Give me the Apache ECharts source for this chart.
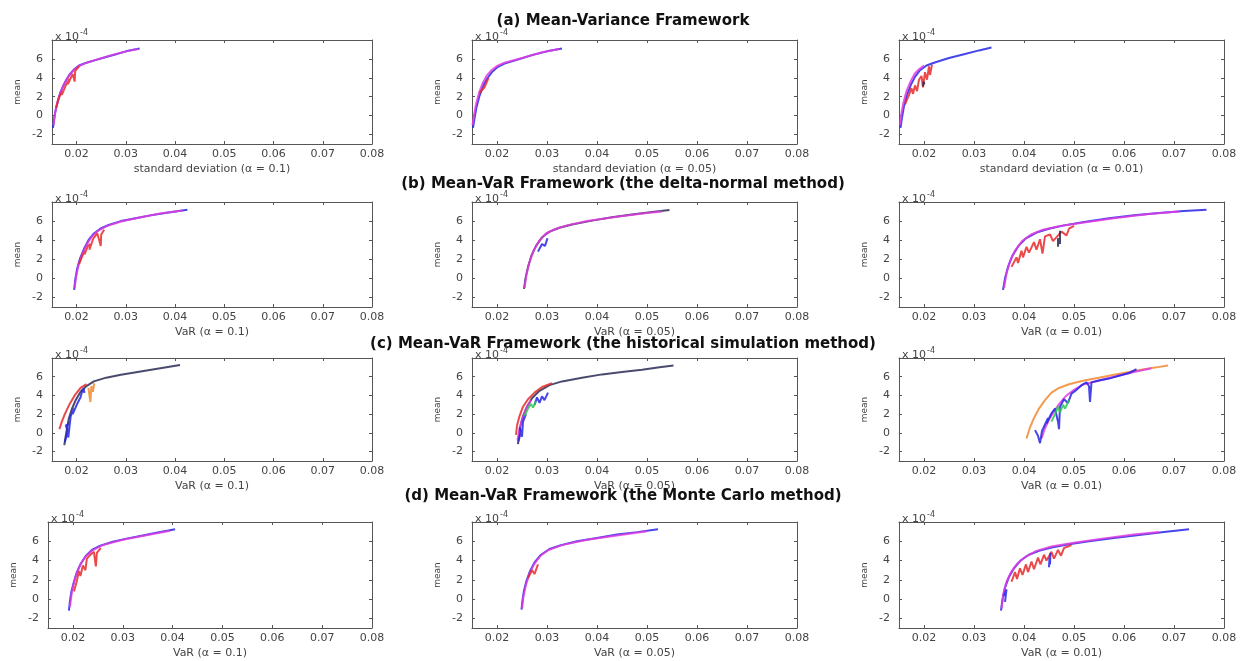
<!DOCTYPE html>
<html>
<head>
<meta charset="utf-8">
<script src="https://cdn.jsdelivr.net/npm/echarts@6/dist/echarts.min.js"></script>
<style>
html,body{margin:0;padding:0;background:#fff;}
#main{width:1246px;height:661px;}
</style>
</head>
<body>
<div id="main"></div>
<script>
// mean values are in units of 1e-4
var xTicks = [0.02, 0.03, 0.04, 0.05, 0.06, 0.07, 0.08];
var yTicks = [-2, 0, 2, 4, 6];
var sectionTitles = [
    '(a) Mean-Variance Framework',
    '(b) Mean-VaR Framework (the delta-normal method)',
    '(c) Mean-VaR Framework (the historical simulation method)',
    '(d) Mean-VaR Framework (the Monte Carlo method)'
];
var xNames = [
    ['standard deviation (\u03b1 = 0.1)', 'standard deviation (\u03b1 = 0.05)', 'standard deviation (\u03b1 = 0.01)'],
    ['VaR (\u03b1 = 0.1)', 'VaR (\u03b1 = 0.05)', 'VaR (\u03b1 = 0.01)'],
    ['VaR (\u03b1 = 0.1)', 'VaR (\u03b1 = 0.05)', 'VaR (\u03b1 = 0.01)'],
    ['VaR (\u03b1 = 0.1)', 'VaR (\u03b1 = 0.05)', 'VaR (\u03b1 = 0.01)']
];

// (a) mean-variance
var a1Blue = [[0.0152,-1.3],[0.0154,-0.5],[0.0157,0.5],[0.0162,1.6],[0.0168,2.6],[0.0176,3.5],[0.0185,4.3],[0.0195,4.9],[0.0205,5.3],[0.022,5.6],[0.024,5.9],[0.026,6.2],[0.028,6.5],[0.030,6.8],[0.0328,7.1]];
var a1Mag = [[0.0153,-1.0],[0.0156,0.2],[0.016,1.2],[0.0166,2.3],[0.0174,3.3],[0.0183,4.1],[0.0193,4.8],[0.0203,5.2],[0.0218,5.55],[0.0245,6.0],[0.0275,6.45],[0.0305,6.85],[0.0325,7.05]];
var a1Red = [[0.0158,0.8],[0.0165,2.0],[0.0172,2.6],[0.017,2.2],[0.0178,3.2],[0.0186,3.9],[0.0182,3.3],[0.0192,4.4],[0.0196,3.6],[0.0197,4.7],[0.0205,5.2]];

var a2Blue = [[0.0152,-1.3],[0.0155,-0.3],[0.0159,0.9],[0.0165,2.1],[0.0172,3.1],[0.018,3.9],[0.019,4.6],[0.020,5.1],[0.0215,5.5],[0.024,5.9],[0.027,6.4],[0.030,6.8],[0.033,7.1]];
var a2Mag = [[0.0151,-1.0],[0.0154,0.0],[0.0158,1.2],[0.0164,2.4],[0.0171,3.4],[0.0179,4.2],[0.0189,4.8],[0.020,5.25],[0.0215,5.6],[0.025,6.1],[0.029,6.7],[0.0325,7.05]];
var a2Red = [[0.0165,2.4],[0.0175,3.0],[0.0178,2.8],[0.0183,4.0]];

var a3Blue = [[0.0153,-1.3],[0.0156,-0.2],[0.016,1.0],[0.0166,2.2],[0.0174,3.3],[0.0182,4.1],[0.0192,4.8],[0.0205,5.3],[0.022,5.6],[0.025,6.1],[0.028,6.5],[0.031,6.9],[0.0335,7.2]];
var a3Mag = [[0.0152,-1.0],[0.0155,0.3],[0.0159,1.4],[0.0165,2.6],[0.0173,3.6],[0.0181,4.4],[0.019,4.9],[0.020,5.3]];
var a3Red = [[0.0162,1.2],[0.017,2.2],[0.0175,2.9],[0.0178,2.3],[0.0182,3.2],[0.0186,2.6],[0.019,3.8],[0.0195,4.2],[0.0198,3.0],[0.0202,4.6],[0.0206,3.8],[0.021,5.2],[0.0212,4.3],[0.0216,5.4]];
var a3Black = [[0.0198,3.1],[0.0199,3.6],[0.0201,3.3]];

// (b) delta-normal
var b1Blue = [[0.0195,-1.2],[0.0197,-0.2],[0.0201,1.0],[0.0207,2.1],[0.0215,3.1],[0.0224,4.0],[0.0235,4.7],[0.0248,5.2],[0.0265,5.6],[0.029,6.0],[0.032,6.3],[0.035,6.6],[0.038,6.85],[0.0425,7.2]];
var b1Mag = [[0.0196,-1.0],[0.0199,0.2],[0.0204,1.4],[0.0211,2.5],[0.022,3.5],[0.0231,4.4],[0.0244,5.0],[0.026,5.45],[0.029,5.95],[0.033,6.4],[0.037,6.8],[0.0415,7.1]];
var b1Red = [[0.0205,1.5],[0.0212,2.4],[0.0218,2.9],[0.0216,2.5],[0.0223,3.4],[0.0228,3.6],[0.0226,3.0],[0.0234,4.2],[0.0242,4.7],[0.0246,4.0],[0.0249,3.4],[0.025,4.6],[0.0256,5.1]];

var b2Blue = [[0.0254,-1.1],[0.0257,0.0],[0.0262,1.2],[0.0269,2.4],[0.0278,3.4],[0.029,4.3],[0.0305,4.9],[0.0325,5.3],[0.035,5.65],[0.039,6.05],[0.043,6.4],[0.047,6.7],[0.051,6.95],[0.0545,7.15]];
var b2Mag = [[0.0255,-1.0],[0.0259,0.4],[0.0265,1.7],[0.0273,2.9],[0.0284,3.9],[0.0298,4.7],[0.0318,5.2],[0.034,5.55],[0.038,6.0],[0.044,6.45],[0.05,6.85],[0.053,7.0]];
var b2Black = [[0.0282,2.8],[0.029,3.6],[0.0296,3.4],[0.0301,4.2]];

var b3Blue = [[0.0358,-1.2],[0.0362,0.0],[0.0368,1.2],[0.0377,2.4],[0.0389,3.4],[0.0404,4.2],[0.0425,4.8],[0.045,5.2],[0.048,5.55],[0.052,5.9],[0.057,6.3],[0.062,6.6],[0.067,6.85],[0.072,7.05],[0.0765,7.2]];
var b3Mag = [[0.036,-1.0],[0.0365,0.5],[0.0372,1.8],[0.0382,2.9],[0.0396,3.9],[0.0414,4.6],[0.0438,5.1],[0.047,5.45],[0.052,5.85],[0.058,6.3],[0.065,6.75],[0.071,7.0]];
var b3Red = [[0.0375,1.2],[0.0385,2.2],[0.0388,1.6],[0.0395,2.9],[0.0398,2.2],[0.0405,3.3],[0.041,2.7],[0.042,3.8],[0.0425,3.0],[0.0432,4.1],[0.0437,2.6],[0.0442,4.4],[0.0452,4.6],[0.0458,3.9],[0.0475,4.9],[0.0485,4.5],[0.049,5.2],[0.05,5.5]];
var b3Black = [[0.0468,3.3],[0.0468,4.2],[0.0472,3.6],[0.0472,5.0]];

// (c) historical simulation
var c1Blue = [[0.0175,-1.3],[0.0178,-0.3],[0.0181,0.6],[0.0184,1.5],[0.019,2.5],[0.0198,3.5],[0.0208,4.4],[0.022,5.0],[0.0235,5.5],[0.026,5.9],[0.029,6.2],[0.033,6.55],[0.037,6.9],[0.041,7.25]];
var c1Clust = [[0.0176,-1.0],[0.0182,0.2],[0.0178,0.8],[0.0186,1.0],[0.0183,-0.5],[0.0188,1.8],[0.0195,2.6],[0.0192,2.0],[0.0202,3.2],[0.0208,3.8],[0.0212,4.6],[0.0216,4.3],[0.0214,4.8]];
var c1Red = [[0.0165,0.4],[0.017,1.2],[0.0176,2.0],[0.0185,3.0],[0.0196,4.0],[0.0208,4.8],[0.022,5.2]];
var c1Orange = [[0.0224,4.8],[0.0228,3.3],[0.023,5.0],[0.0233,4.4],[0.0236,5.3]];

var c2Blue = [[0.0242,-1.2],[0.0244,-0.2],[0.0247,0.8],[0.0252,1.8],[0.026,2.8],[0.027,3.7],[0.0285,4.5],[0.0305,5.1],[0.033,5.5],[0.037,5.9],[0.041,6.25],[0.045,6.5],[0.049,6.75],[0.0525,7.0],[0.0553,7.2]];
var c2Red = [[0.0238,-0.2],[0.024,0.8],[0.0245,1.8],[0.0252,2.8],[0.0262,3.6],[0.0275,4.3],[0.029,4.9],[0.031,5.3]];
var c2Mag = [[0.0241,-0.8],[0.0244,0.2],[0.025,1.4],[0.0258,2.6],[0.0268,3.5]];
var c2ClustLow = [[0.0243,-0.9],[0.0248,0.2],[0.0245,0.6],[0.025,-0.4],[0.0252,1.2],[0.0258,2.0]];
var c2ClustMid = [[0.0275,3.0],[0.028,3.8],[0.0285,3.2],[0.029,3.9],[0.0295,3.5],[0.0302,4.3]];
var c2Green = [[0.0255,1.8],[0.0262,2.6],[0.0268,3.1],[0.0272,2.7],[0.0278,3.4]];

var c3Orange = [[0.0405,-0.6],[0.0412,0.6],[0.042,1.6],[0.043,2.6],[0.0442,3.5],[0.0455,4.3],[0.047,4.8],[0.049,5.2],[0.052,5.6],[0.055,5.9],[0.058,6.2],[0.061,6.5],[0.064,6.8],[0.0665,7.0],[0.0688,7.2]];
var c3Blue = [[0.0422,0.3],[0.0428,-0.3],[0.0432,-1.1],[0.0436,0.2],[0.0442,0.9],[0.0448,1.6],[0.0445,1.0],[0.0455,2.1],[0.0462,2.6],[0.0468,1.2],[0.047,0.4],[0.0472,2.8],[0.048,3.6],[0.0488,3.2],[0.0495,4.2],[0.0505,4.6],[0.0515,5.1],[0.0525,5.4],[0.053,5.0],[0.0532,3.3],[0.0535,5.4],[0.055,5.6],[0.057,5.8],[0.059,6.1],[0.061,6.4],[0.0625,6.8]];
var c3Mag = [[0.0435,-0.6],[0.0442,0.5],[0.045,1.4],[0.046,2.3],[0.0472,3.2],[0.0485,4.0],[0.05,4.6],[0.052,5.2],[0.055,5.6],[0.058,6.0],[0.062,6.5],[0.0655,6.9]];
var c3Green = [[0.0455,1.2],[0.0462,2.0],[0.0468,2.8],[0.0472,2.2],[0.0478,3.0],[0.0482,2.6],[0.049,3.5]];

// (d) monte carlo
var d1Blue = [[0.0192,-1.2],[0.0194,-0.2],[0.0197,0.8],[0.0202,1.8],[0.0208,2.8],[0.0216,3.7],[0.0226,4.5],[0.0238,5.1],[0.0255,5.55],[0.028,5.95],[0.031,6.3],[0.034,6.6],[0.037,6.9],[0.0405,7.25]];
var d1Mag = [[0.0194,-0.8],[0.0197,0.4],[0.0201,1.5],[0.0207,2.6],[0.0215,3.6],[0.0225,4.4],[0.0237,5.0],[0.026,5.6],[0.030,6.15],[0.035,6.65],[0.0395,7.1]];
var d1Red = [[0.0202,0.8],[0.0208,1.9],[0.0212,2.9],[0.0215,2.4],[0.022,3.5],[0.0225,3.0],[0.0228,4.2],[0.0235,4.6],[0.0242,4.9],[0.0246,3.4],[0.0248,4.8],[0.0256,5.3]];

var d2Blue = [[0.0249,-1.1],[0.0251,-0.1],[0.0254,0.9],[0.0259,1.9],[0.0266,2.9],[0.0275,3.8],[0.0288,4.6],[0.0305,5.2],[0.0328,5.6],[0.036,6.0],[0.040,6.35],[0.044,6.7],[0.048,6.95],[0.0522,7.25]];
var d2Mag = [[0.025,-1.0],[0.0253,0.3],[0.0258,1.5],[0.0265,2.6],[0.0274,3.6],[0.0287,4.5],[0.0303,5.1],[0.033,5.6],[0.038,6.15],[0.044,6.6],[0.050,7.05]];
var d2Red = [[0.0262,2.2],[0.027,3.0],[0.0275,2.6],[0.0282,3.6]];

var d3Blue = [[0.0354,-1.2],[0.0357,0.0],[0.0362,1.2],[0.037,2.3],[0.038,3.2],[0.0393,4.0],[0.041,4.6],[0.043,5.0],[0.0455,5.35],[0.049,5.7],[0.053,6.0],[0.058,6.35],[0.063,6.65],[0.068,6.95],[0.073,7.25]];
var d3Mag = [[0.0355,-1.0],[0.0359,0.6],[0.0365,1.8],[0.0374,2.8],[0.0387,3.7],[0.0403,4.4],[0.0425,5.0],[0.0455,5.45],[0.050,5.85],[0.056,6.3],[0.062,6.7],[0.067,6.95]];
var d3Red = [[0.0375,1.8],[0.0382,2.8],[0.0386,2.1],[0.0392,3.2],[0.0397,2.5],[0.0404,3.6],[0.0408,2.8],[0.0415,3.9],[0.042,3.1],[0.0428,4.3],[0.0433,3.6],[0.044,4.6],[0.0445,4.0],[0.0455,4.9],[0.046,4.2],[0.0468,5.1],[0.0474,4.5],[0.048,5.3],[0.0495,5.6]];
var d3Spike = [[0.045,3.3],[0.0451,4.3],[0.0452,3.6],[0.0453,4.8]];
var d3Clust = [[0.036,0.3],[0.0365,1.0],[0.0362,-0.3]];

var BLUE = '#2424e6', MAG = '#e23ce2', RED = '#e82a2a', ORANGE = '#f08a30', GREEN = '#28c850', BLACK = '#2a2a55';

// panel order: row by row, left to right
var panels = [
    [[a1Blue, BLUE], [a1Mag, MAG], [a1Red, RED]],
    [[a2Blue, BLUE], [a2Mag, MAG], [a2Red, RED]],
    [[a3Blue, BLUE], [a3Mag, MAG], [a3Red, RED], [a3Black, BLACK]],
    [[b1Blue, BLUE], [b1Mag, MAG], [b1Red, RED]],
    [[b2Blue, BLACK], [b2Mag, MAG], [b2Black, BLUE]],
    [[b3Blue, BLUE], [b3Mag, MAG], [b3Red, RED], [b3Black, BLACK]],
    [[c1Blue, BLACK], [c1Red, RED], [c1Clust, BLUE], [c1Orange, ORANGE]],
    [[c2Blue, BLACK], [c2Red, RED], [c2Mag, MAG], [c2ClustLow, BLUE], [c2ClustMid, BLUE], [c2Green, GREEN]],
    [[c3Orange, ORANGE], [c3Mag, MAG], [c3Blue, BLUE], [c3Green, GREEN]],
    [[d1Blue, BLUE], [d1Mag, MAG], [d1Red, RED]],
    [[d2Blue, BLUE], [d2Mag, MAG], [d2Red, RED]],
    [[d3Blue, BLUE], [d3Mag, MAG], [d3Red, RED], [d3Spike, BLUE], [d3Clust, BLUE]]
];

var rowTops = [40, 202, 358, 522];
var rowHeights = [104, 105, 103, 106];
var colLefts = [52, 472, 899];
var colWidths = [320, 325, 325];
var sectionTops = [9, 172, 332, 484];

var font = 'DejaVu Sans';

function extend(a, b){ for (var k in b) a[k] = b[k]; return a; }

function build_option(){
    var grids = [], xAxes = [], yAxes = [], series = [], titles = [];

    sectionTitles.forEach(function(t, i){
        titles.push({
            text: t, left: 'center', top: sectionTops[i],
            textStyle: {fontFamily: font, fontSize: 15, fontWeight: 'bold', color: '#111'}
        });
    });

    for (var r = 0; r < 4; r++) {
        for (var c = 0; c < 3; c++) {
            var g = r * 3 + c;
            var shift = (r == 3 && c == 0) ? 4 : 0;
            var left = colLefts[c] - shift;
            grids.push({left: left, top: rowTops[r], width: colWidths[c] + shift, height: rowHeights[r], show: false});

            titles.push({
                text: 'x 10{s|-4}', left: left - 2, top: rowTops[r] - 16,
                textStyle: {fontFamily: font, fontSize: 11, fontWeight: 'normal', color: '#444',
                    rich: {s: {fontFamily: font, fontSize: 8, fontWeight: 'normal', color: '#444', padding: [0, 0, 9, 1]}}}
            });

            var tickStyle = {show: true, inside: true, length: 3, lineStyle: {color: '#555'}};
            var lineStyle = {show: true, onZero: false, lineStyle: {color: '#555', width: 1}};
            xAxes.push({
                type: 'value', gridIndex: g, min: 0.015, max: 0.08, position: 'bottom',
                name: xNames[r][c], nameLocation: 'middle', nameGap: 20,
                nameTextStyle: {fontFamily: font, fontSize: 11, color: '#444'},
                axisLine: lineStyle, splitLine: {show: false},
                axisTick: extend({customValues: xTicks}, tickStyle),
                axisLabel: {customValues: xTicks, margin: 5, fontFamily: font, fontSize: 11, color: '#444',
                    formatter: function(v){ return v.toFixed(2); }}
            });
            xAxes.push({
                type: 'value', gridIndex: g, min: 0.015, max: 0.08, position: 'top',
                axisLine: lineStyle, splitLine: {show: false},
                axisTick: extend({customValues: xTicks}, tickStyle),
                axisLabel: {show: false}
            });
            yAxes.push({
                type: 'value', gridIndex: g, min: -3, max: 8, position: 'left',
                name: 'mean', nameLocation: 'middle', nameGap: 30, nameRotate: 90,
                nameTextStyle: {fontFamily: font, fontSize: 9, color: '#444'},
                axisLine: lineStyle, splitLine: {show: false},
                axisTick: extend({customValues: yTicks}, tickStyle),
                axisLabel: {customValues: yTicks, margin: 9, fontFamily: font, fontSize: 11, color: '#444'}
            });
            yAxes.push({
                type: 'value', gridIndex: g, min: -3, max: 8, position: 'right',
                axisLine: lineStyle, splitLine: {show: false},
                axisTick: extend({customValues: yTicks}, tickStyle),
                axisLabel: {show: false}
            });

            panels[g].forEach(function(p){
                series.push({
                    type: 'line', xAxisIndex: g * 2, yAxisIndex: g * 2,
                    data: p[0], showSymbol: false, silent: true,
                    lineStyle: {color: p[1], width: 2, opacity: 0.85}
                });
            });
        }
    }

    return {
        backgroundColor: '#fff',
        animation: false,
        title: titles,
        grid: grids,
        xAxis: xAxes,
        yAxis: yAxes,
        series: series
    };
}

var myChart = echarts.init(document.getElementById('main'));
myChart.setOption(build_option());
</script>
</body>
</html>
